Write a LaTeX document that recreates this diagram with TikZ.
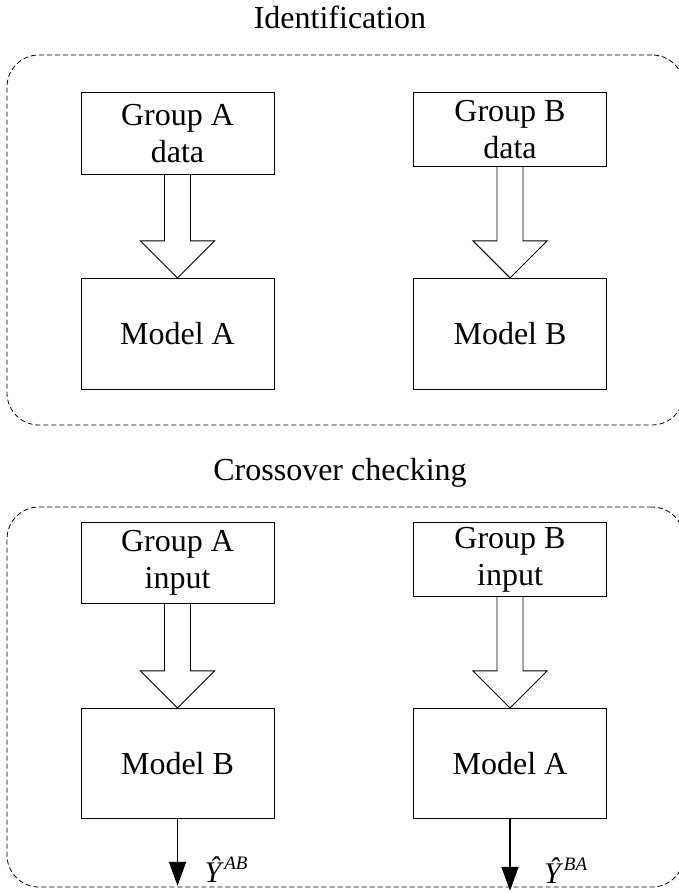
\documentclass[tikz,border=0pt]{standalone}
\usepackage{fontspec}
\setmainfont{Liberation Serif}
\usetikzlibrary{positioning, calc, arrows.meta}
\tikzstyle{stage} = [rectangle, rounded corners=32pt, draw=black, line width=0.8pt, dash pattern=on 5pt off 3pt, inner sep=0pt]
\tikzstyle{block} = [rectangle, draw=black, line width=0.9pt, minimum width=193pt, align=center, font=\fontsize{32}{37}\selectfont, inner sep=0pt]
\tikzstyle{stagetitle} = [font=\fontsize{32}{37}\selectfont]
\tikzstyle{hollow} = [draw=black, line width=0.9pt, line join=miter]
\tikzstyle{outarrow} = [line width=1.6pt, -{Triangle[length=24pt, width=17pt]}]
\tikzstyle{outlabel} = [anchor=base west, inner sep=0pt, font=\fontsize{30}{34}\selectfont\itshape]

% wide open arrow from the bottom of #1 to the top of #2
\newcommand{\hollowarrow}[2]{%
  \draw[hollow] ($(#1.south)+(-13,0)$) -- ($(#2.north)+(-13,37)$)
    -- ($(#2.north)+(-37,37)$) -- (#2.north) -- ($(#2.north)+(37,37)$)
    -- ($(#2.north)+(13,37)$) -- ($(#1.south)+(13,0)$);}
\newcommand{\yhat}[1]{Ŷ\kern3pt\raisebox{13pt}{\fontsize{19}{22}\selectfont #1}}

\begin{document}
\begin{tikzpicture}[x=1pt, y=1pt]
    \useasboundingbox (0,0) rectangle (679,893);

    % Identification
    \node (idtitle) [stagetitle] at (340,876) {Identification};
    \node (idstage) [stage, minimum width=677pt, minimum height=370pt] at (345.5,653) {};

    \node (grpAdata) [block, minimum height=82pt, anchor=north] at (177.5,801) {Group A\\data};
    \node (grpBdata) [block, minimum height=74pt, anchor=north] at (510,801) {Group B\\data};
    \node (modA) [block, minimum height=111pt, below=103pt of grpAdata] {Model A};
    \node (modB) [block, minimum height=111pt, below=111pt of grpBdata] {Model B};

    \hollowarrow{grpAdata}{modA}
    \hollowarrow{grpBdata}{modB}

    % Crossover checking
    \node (cctitle) [stagetitle] at (340,420) {Crossover checking};
    \node (ccstage) [stage, minimum width=677pt, minimum height=380pt] at (345.5,196) {};

    \node (grpAin) [block, minimum height=81pt, anchor=north] at (177.5,371) {Group A\\input};
    \node (grpBin) [block, minimum height=74pt, anchor=north] at (510,371) {Group B\\input};
    \node (crossB) [block, minimum height=110pt, below=104pt of grpAin] {Model B};
    \node (crossA) [block, minimum height=110pt, below=111pt of grpBin] {Model A};

    \hollowarrow{grpAin}{crossB}
    \hollowarrow{grpBin}{crossA}

    % Outputs
    \draw [outarrow] (crossB.south) -- ++(0,-67) coordinate (outAB);
    \draw [outarrow] (crossA.south) -- ++(0,-72) coordinate (outBA);
    \node (lblAB) [outlabel] at ($(outAB)+(27,3)$) {\yhat{AB}};
    \node (lblBA) [outlabel] at ($(outBA)+(34,7)$) {\yhat{BA}};
\end{tikzpicture}
\end{document}
